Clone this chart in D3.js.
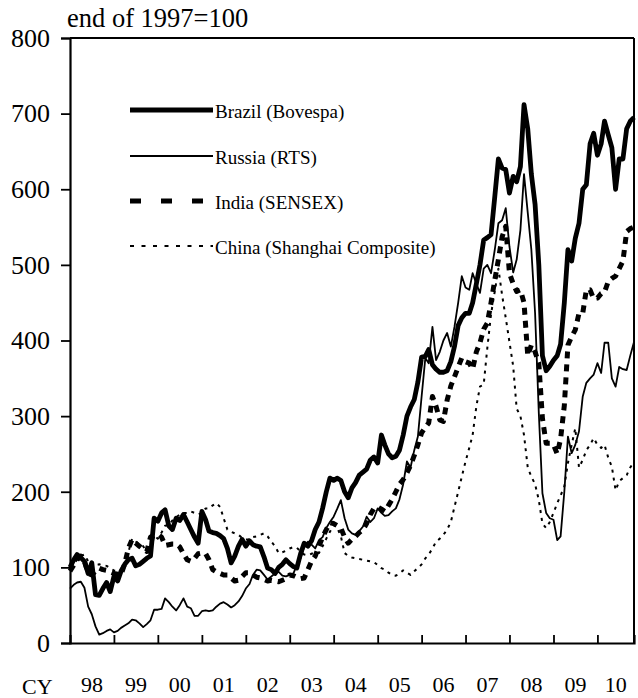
<!DOCTYPE html>
<html><head><meta charset="utf-8">
<script src="https://cdn.jsdelivr.net/npm/d3@7"></script>
<style>
body{margin:0;background:#fff}
svg{display:block}
svg text{font-family:"Liberation Serif","Times New Roman","DejaVu Serif",serif !important;fill:#000}
</style>
</head><body>
<svg id="chart" width="638" height="698"></svg>
<script>
// Monthly index values, end of Dec 1997 = first point (end of 1997 = 100)
const startMonth = new Date(1998, 0, 1);
const brazil = [100,110,117,113,108,92,106,64,63,72,
80,68,88,82,95,104,110,112,102,104,
108,112,115,165,161,172,176,155,150,165,
162,170,160,150,140,132,174,163,148,146,
145,142,138,125,106,115,128,137,128,135,
130,128,127,114,99,97,92,100,104,110,
105,101,99,118,132,128,135,150,160,178,
200,218,215,218,215,200,192,205,212,222,
226,230,242,246,238,275,262,250,245,247,
255,275,300,312,322,345,378,379,388,368,
362,358,358,360,372,392,420,430,436,436,
450,475,500,533,536,540,590,640,628,626,
595,617,610,630,712,680,620,580,500,380,
360,366,374,380,395,450,520,505,535,555,
600,606,660,674,645,660,690,672,655,600,
640,640,680,690,695];
const russia = [72,77,80,81,73,48,38,22,11,13,
16,18,14,16,20,23,26,31,30,26,
21,25,30,44,44,45,59,54,48,43,
50,59,48,46,36,36,42,43,42,43,
48,52,54,51,47,50,55,62,72,78,
90,97,96,90,84,88,92,94,89,88,
90,92,103,112,127,134,130,125,136,140,
152,160,167,178,189,165,150,145,143,148,
154,167,160,165,178,172,168,169,174,178,
190,210,240,232,255,273,326,377,370,418,
374,385,400,410,392,418,450,485,470,467,
489,475,463,495,500,489,520,555,559,575,
524,490,507,546,620,569,520,436,304,198,
172,165,163,136,141,200,273,251,262,280,
326,344,350,355,370,357,397,397,350,339,
365,362,361,380,398];
const india = [95,103,110,115,108,92,90,95,99,97,
96,94,92,91,90,105,125,137,132,128,
124,121,140,142,144,140,129,130,131,131,
127,118,110,108,112,118,119,118,110,97,
94,92,90,90,86,82,83,88,93,93,
90,87,86,84,82,83,82,81,83,85,
90,89,87,85,86,97,108,115,128,140,
150,159,158,155,152,140,132,137,141,146,
150,158,170,178,180,177,174,182,190,200,
210,216,225,235,248,262,278,285,291,326,
313,295,293,321,340,352,365,377,372,370,
362,385,397,415,423,450,480,507,537,551,
489,475,465,467,450,380,394,385,370,297,
264,264,262,250,270,314,394,405,414,436,
436,467,467,455,456,462,464,478,482,485,
495,505,544,548,550];
const china = [100,105,110,115,117,108,101,103,104,103,
102,99,96,95,96,100,120,138,134,131,
128,121,119,142,138,146,155,156,162,166,
170,172,172,174,172,170,172,178,178,182,
185,180,165,150,147,145,143,139,137,137,
140,141,143,145,141,134,128,119,120,122,
125,127,126,121,117,116,118,120,119,128,
138,147,156,152,141,119,115,113,112,111,
110,109,108,107,103,99,97,93,90,89,
92,96,93,90,95,99,104,112,117,125,
134,138,143,150,160,180,200,220,240,258,
275,313,339,342,390,435,465,495,460,430,
398,366,310,300,275,232,220,210,189,158,
152,160,172,185,195,207,238,262,284,232,
242,255,262,271,262,258,262,245,233,202,
214,218,222,232,240];

const seriesNames = ["Brazil (Bovespa)","Russia (RTS)","India (SENSEX)","China (Shanghai Composite)"];
const yearLabels = ["98","99","00","01","02","03","04","05","06","07","08","09","10"];
const yTicks = [0,100,200,300,400,500,600,700,800];
const yUnit = "end of 1997=100";
const xUnit = "CY";

const FONT = '"Liberation Serif","Times New Roman","DejaVu Serif",serif';
const styles = [
  {w:4.8, dash:null, legDash:null},
  {w:1.8, dash:null, legDash:null},
  {w:5, dash:"7,6", legDash:"11,20"},
  {w:2, dash:"3,5", legDash:"4,7.5"}
];
const allSeries = [brazil, russia, india, china];

const svg = d3.select("#chart");
const L = 70, R = 634, T = 38, B = 643;
const x = d3.scaleTime().domain([startMonth, new Date(2010, 10, 1)]).range([L, R]);
const y = d3.scaleLinear().domain([0, 800]).range([B, T]);
const dateAt = i => d3.timeMonth.offset(startMonth, i);

// lines
const line = d3.line().x((d,i)=>x(dateAt(i))).y(d=>y(d));
allSeries.forEach((s,k)=>{
  svg.append("path").datum(s).attr("d", line)
    .attr("fill","none").attr("stroke","#000")
    .attr("stroke-width", styles[k].w)
    .attr("stroke-linejoin","round")
    .attr("stroke-dasharray", styles[k].dash);
});

// frame
svg.append("line").attr("x1",L).attr("x2",R).attr("y1",T).attr("y2",T).attr("stroke","#000").attr("stroke-width",2);
svg.append("line").attr("x1",R).attr("x2",R).attr("y1",T).attr("y2",B).attr("stroke","#000").attr("stroke-width",2);

// y axis
const ya = svg.append("g").attr("transform",`translate(${L},0)`)
  .attr("font-family", FONT)
  .call(d3.axisLeft(y).tickValues(yTicks).tickSize(9).tickPadding(11).tickFormat(d3.format("d")));
ya.attr("font-family", FONT).attr("font-size", 26);
ya.select(".domain").attr("stroke-width",2.2);
ya.selectAll(".tick line").attr("stroke-width",1.8);
ya.selectAll(".tick text").style("font-family",FONT).style("font-size","26px");

// x axis (ticks inward)
const yearTicks = d3.range(1999, 2011).map(yr=>new Date(yr,0,1));
const xa = svg.append("g").attr("transform",`translate(0,${B})`)
  .call(d3.axisBottom(x).tickValues(yearTicks).tickSize(-8).tickFormat(""));
xa.select(".domain").attr("stroke-width",2.2);
xa.selectAll(".tick line").attr("stroke-width",1.8);

// year labels centred in each year span
yearLabels.forEach((lab,i)=>{
  const a = x(new Date(1998+i,0,1)), b = Math.min(R, x(new Date(1999+i,0,1)));
  svg.append("text").attr("x",(a+b)/2).attr("y",692).attr("text-anchor","middle")
    .style("font-family",FONT).style("font-size","22px").text(lab);
});
svg.append("text").attr("x",22).attr("y",694).style("font-family",FONT).style("font-size","22px").text(xUnit);
svg.append("text").attr("x",67).attr("y",27).style("font-family",FONT).style("font-size","26.5px").text(yUnit);

// legend
const legY = [110,156,201,246];
seriesNames.forEach((n,k)=>{
  svg.append("line").attr("x1",130).attr("x2",213).attr("y1",legY[k]).attr("y2",legY[k])
    .attr("stroke","#000").attr("stroke-width",styles[k].w)
    .attr("stroke-dasharray",styles[k].legDash);
  svg.append("text").attr("x",215).attr("y",legY[k]+8).style("font-family",FONT).style("font-size","19px").text(n);
});
</script>
</body></html>
